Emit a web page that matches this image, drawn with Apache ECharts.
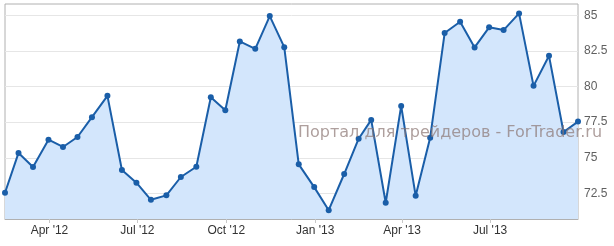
<!DOCTYPE html>
<html>
<head>
<meta charset="utf-8">
<script src="https://cdn.jsdelivr.net/npm/echarts@6/dist/echarts.min.js"></script>
<style>
html,body{margin:0;padding:0;background:#fff;}
#chart{width:614px;height:246px;}
</style>
</head>
<body>
<div id="chart"></div>
<script>
// Semi-monthly observation dates (15th and month end), Feb 2012 – Sep 2013
const dates = [
  '2012-02-15','2012-02-29','2012-03-15','2012-03-31','2012-04-15','2012-04-30',
  '2012-05-15','2012-05-31','2012-06-15','2012-06-30','2012-07-15','2012-07-31',
  '2012-08-15','2012-08-31','2012-09-15','2012-09-30','2012-10-15','2012-10-31',
  '2012-11-15','2012-11-30','2012-12-15','2012-12-31','2013-01-15','2013-01-31',
  '2013-02-15','2013-02-28','2013-03-15','2013-03-31','2013-04-15','2013-04-30',
  '2013-05-15','2013-05-31','2013-06-15','2013-06-30','2013-07-15','2013-07-31',
  '2013-08-15','2013-08-31','2013-09-15','2013-09-30'
];
const values = [
  72.54, 75.34, 74.35, 76.27, 75.76, 76.46, 77.85, 79.35, 74.14, 73.25,
  72.05, 72.36, 73.65, 74.37, 79.25, 78.34, 83.17, 82.65, 84.95, 82.77,
  74.54, 72.94, 71.32, 73.86, 76.34, 77.66, 71.84, 78.64, 72.33, 76.41,
  83.76, 84.55, 82.75, 84.16, 83.97, 85.14, 80.05, 82.16, 76.81, 77.54
];
const yTicks = [72.5, 75, 77.5, 80, 82.5, 85];
const monthNames = ['Jan','Feb','Mar','Apr','May','Jun','Jul','Aug','Sep','Oct','Nov','Dec'];
const watermark = 'Портал для трейдеров - ForTrader.ru';

const chart = echarts.init(document.getElementById('chart'), null, {renderer: 'canvas'});
chart.setOption({
  animation: false,
  grid: {left: 5, right: 36, top: 4, bottom: 27, show: true, borderColor: '#b0b0b0', borderWidth: 1, backgroundColor: 'transparent'},
  xAxis: {
    type: 'time',
    min: dates[0],
    max: dates[dates.length - 1],
    splitNumber: 6,
    axisLine: {show: true, lineStyle: {color: '#b0b0b0'}},
    axisTick: {show: true, length: 4, lineStyle: {color: '#c8c8c8'}},
    splitLine: {show: false},
    axisLabel: {
      color: '#333', fontFamily: 'Liberation Sans, Arial, sans-serif', fontSize: 12, margin: 6,
      showMinLabel: false, showMaxLabel: false,
      formatter: function (v) {
        const d = new Date(v);
        return monthNames[d.getMonth()] + " '" + String(d.getFullYear()).slice(2);
      }
    }
  },
  yAxis: {
    type: 'value',
    position: 'right',
    min: 70.7,
    max: 85.8,
    axisLine: {show: false},
    axisTick: {show: false, customValues: yTicks},
    splitLine: {show: true, lineStyle: {color: '#e6e6e6', width: 1}},
    axisLabel: {
      customValues: yTicks,
      color: '#606060', fontFamily: 'Liberation Sans, Arial, sans-serif', fontSize: 12, margin: 6
    }
  },
  series: [{
    type: 'line',
    data: dates.map((d, i) => [d, values[i]]),
    symbol: 'circle',
    symbolSize: 6,
    showSymbol: true,
    lineStyle: {color: '#1a5ea8', width: 2},
    itemStyle: {color: '#1a5ea8'},
    areaStyle: {color: '#d3e6fc', opacity: 1, origin: 'start'},
    z: 2
  }],
  graphic: [{
    type: 'text',
    left: 298,
    top: 125,
    z: 100,
    silent: true,
    style: {
      text: watermark,
      fill: 'rgba(140,118,116,0.7)',
      font: '16px "DejaVu Sans", sans-serif'
    }
  }]
});
</script>
</body>
</html>
